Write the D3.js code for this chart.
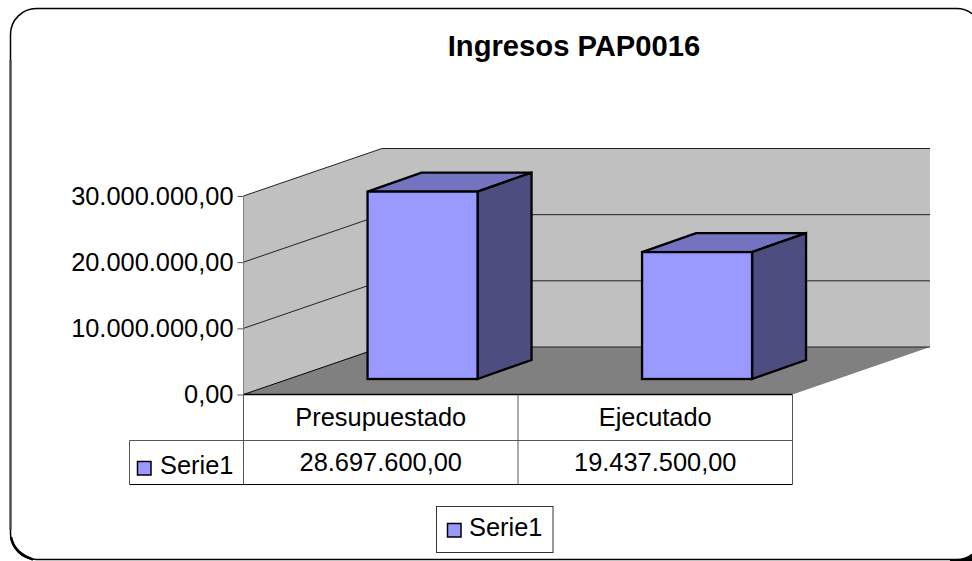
<!DOCTYPE html>
<html><head><meta charset="utf-8">
<script src="https://cdn.jsdelivr.net/npm/d3@7/dist/d3.min.js"></script>
<style>html,body{margin:0;padding:0;background:#fff;overflow:hidden}svg{display:block}text{font-family:"Liberation Sans",Arial,sans-serif;fill:#000}</style>
</head><body><div id="c"></div>
<script>
const titleText = "Ingresos PAP0016";
const categories = ["Presupuestado", "Ejecutado"];
const values = [28697600, 19437500];
const valueLabels = ["28.697.600,00", "19.437.500,00"];
const yTicks = [0, 10000000, 20000000, 30000000];
const yTickLabels = ["0,00", "10.000.000,00", "20.000.000,00", "30.000.000,00"];
const seriesName = "Serie1";

const W = 972, H = 561, fs = 25.4;
const wallD = {x: 138.5, y: -47.5}, inset = {x: 41.8, y: -16}, barD = {x: 54, y: -19};
const barW = 110;
const blue = "#9999ff", blueTop = "#7373bf", blueSide = "#4d4d80";

const svg = d3.select("#c").append("svg").attr("width", W).attr("height", H);
const poly = pts => pts.map(p => p.join(",")).join(" ");

const x = d3.scaleBand().domain(categories).range([243.5, 792.5]);
const y = d3.scaleLinear().domain([0, 30000000]).range([394.5, 196]);
const yBar = d3.scaleLinear().domain([0, 30000000]).range([379, 183.1]);

// chart frame
svg.append("rect").attr("x", 950).attr("y", 540).attr("width", 22).attr("height", 21).attr("fill", "#000");
svg.append("rect").attr("x", 10.5).attr("y", 8.5).attr("width", 972).attr("height", 551).attr("rx", 26)
  .attr("fill", "#fff").attr("stroke", "#000").attr("stroke-width", 1.5);
svg.append("path").attr("d", "M10.5,60V530").attr("stroke", "#444").attr("stroke-width", 2).attr("fill", "none");
svg.append("path").attr("d", "M11,537Q14,553 33,559.5").attr("stroke", "#000").attr("stroke-width", 2.5).attr("fill", "none");

// title
svg.append("text").attr("x", 574).attr("y", 56).attr("text-anchor", "middle")
  .attr("font-size", 29.2).attr("font-weight", "bold").text(titleText);

// walls and floor
const x0 = x.range()[0], x1 = x.range()[1], y0 = y(0), yT = y(30000000), backR = 930;
svg.append("polygon").attr("fill", "#c0c0c0")
  .attr("points", poly([[x0, y0], [x0 + wallD.x, y0 + wallD.y], [backR, y0 + wallD.y], [backR, yT + wallD.y], [x0 + wallD.x, yT + wallD.y], [x0, yT]]));
svg.append("polygon").attr("fill", "#808080")
  .attr("points", poly([[x0, y0], [x0 + wallD.x, y0 + wallD.y], [backR, y0 + wallD.y], [x1, y0]]));

// grid lines
svg.selectAll(".grid").data(yTicks.slice(1)).join("polyline").attr("class", "grid")
  .attr("fill", "none").attr("stroke", "#222").attr("stroke-width", 1)
  .attr("points", d => poly([[x0, y(d)], [x0 + wallD.x, y(d) + wallD.y], [backR, y(d) + wallD.y]]));
svg.append("line").attr("x1", x0 + wallD.x).attr("x2", backR).attr("y1", y0 + wallD.y).attr("y2", y0 + wallD.y).attr("stroke", "#222");
svg.append("line").attr("x1", x0).attr("x2", x0 + wallD.x).attr("y1", y0).attr("y2", y0 + wallD.y).attr("stroke", "#000");
svg.append("line").attr("x1", x0).attr("x2", x1).attr("y1", y0).attr("y2", y0).attr("stroke", "#000").attr("stroke-width", 1.5);
svg.append("line").attr("x1", x0).attr("x2", x0).attr("y1", y0).attr("y2", yT).attr("stroke", "#808080");

// y axis
const yAxis = d3.axisLeft(y).tickValues(yTicks).tickSize(6).tickPadding(4).tickFormat((d, i) => yTickLabels[i]);
const ax = svg.append("g").attr("transform", `translate(${x0},0)`).call(yAxis);
ax.select(".domain").remove();
ax.selectAll("line").attr("stroke", "#555");
ax.selectAll("text").attr("font-size", fs).attr("font-family", '"Liberation Sans",Arial,sans-serif').attr("dy", "0.33em");

// 3D bars
const bars = svg.selectAll(".bar").data(categories).join("g").attr("class", "bar")
  .attr("stroke", "#000").attr("stroke-width", 2.3).attr("stroke-linejoin", "miter");
const bx = c => x(c) + (x.bandwidth() - barW) / 2 + inset.x;
bars.append("polygon").attr("fill", blueTop).attr("points", (c, i) => {
  const l = bx(c), t = yBar(values[i]);
  return poly([[l, t], [l + barD.x, t + barD.y], [l + barW + barD.x, t + barD.y], [l + barW, t]]);
});
bars.append("polygon").attr("fill", blueSide).attr("points", (c, i) => {
  const r = bx(c) + barW, t = yBar(values[i]), b = yBar(0);
  return poly([[r, t], [r + barD.x, t + barD.y], [r + barD.x, b + barD.y], [r, b]]);
});
bars.append("rect").attr("fill", blue).attr("x", bx).attr("y", (c, i) => yBar(values[i])).attr("width", barW)
  .attr("height", (c, i) => yBar(0) - yBar(values[i]));

// data table
const row1 = 440.5, row2 = 484.5, keyL = 129.5;
const tl = (a, b, c, d, col) => svg.append("line").attr("x1", a).attr("y1", b).attr("x2", c).attr("y2", d).attr("stroke", col || "#555").attr("stroke-width", 1);
tl(keyL, row1, x1, row1);
tl(keyL, row2, x1, row2, "#000");
tl(keyL, row1, keyL, row2);
x.domain().forEach(c => tl(x(c), y0, x(c), row2));
tl(x1, y0, x1, row2);
svg.selectAll(".cat").data(categories).join("text").attr("class", "cat").attr("text-anchor", "middle")
  .attr("font-size", fs).attr("x", c => x(c) + x.bandwidth() / 2).attr("y", 426).text(c => c);
svg.selectAll(".val").data(valueLabels).join("text").attr("class", "val").attr("text-anchor", "middle")
  .attr("font-size", fs).attr("x", (d, i) => x(categories[i]) + x.bandwidth() / 2).attr("y", 471).text(d => d);
const key = (kx, ky) => svg.append("rect").attr("x", kx).attr("y", ky).attr("width", 13.5).attr("height", 13.5)
  .attr("fill", blue).attr("stroke", "#000").attr("stroke-width", 1.5);
key(137.5, 461.5);
svg.append("text").attr("x", 160).attr("y", 474).attr("font-size", fs).text(seriesName);

// legend
svg.append("rect").attr("x", 436.5).attr("y", 506.5).attr("width", 116.5).attr("height", 46)
  .attr("fill", "#fff").attr("stroke", "#333").attr("stroke-width", 1);
key(447.5, 523.5);
svg.append("text").attr("x", 469).attr("y", 536).attr("font-size", fs).text(seriesName);
</script></body></html>
